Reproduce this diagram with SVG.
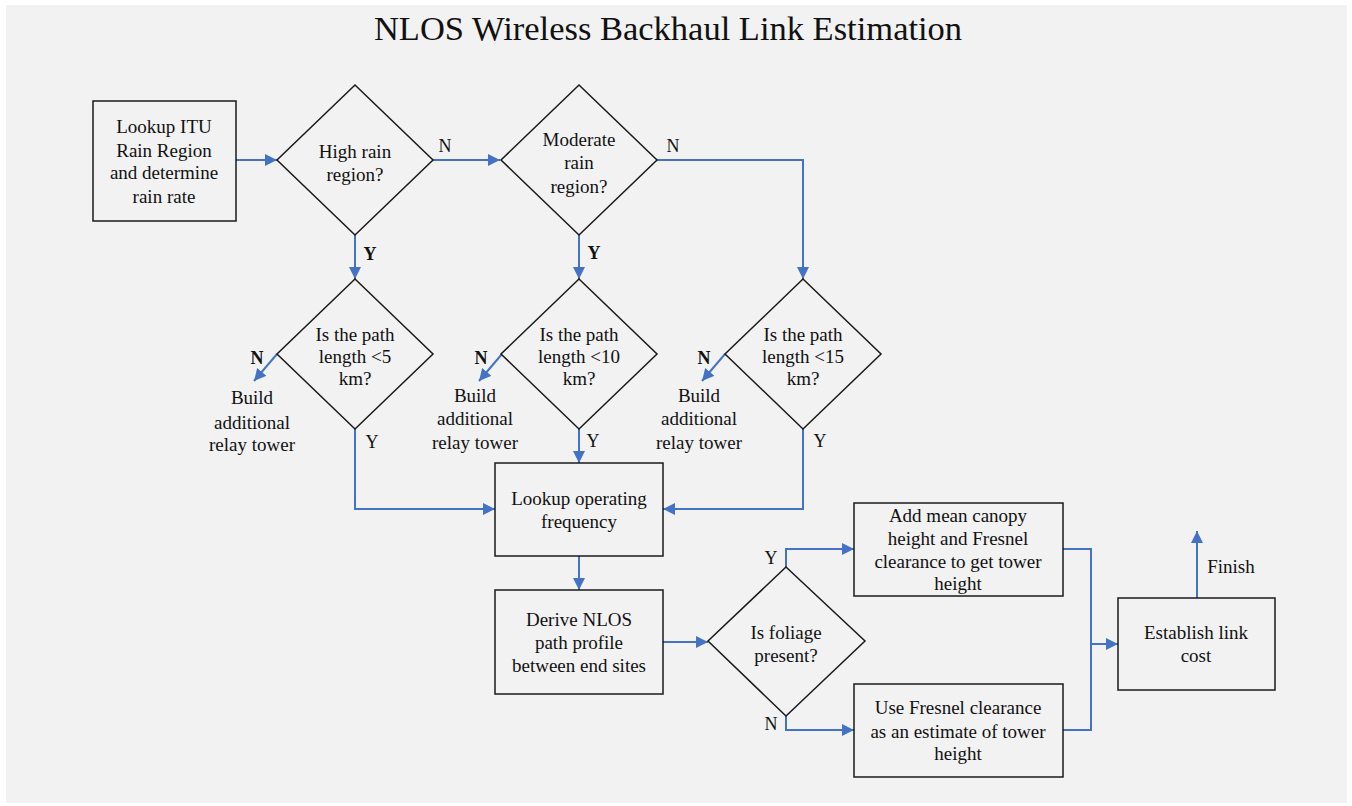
<svg xmlns="http://www.w3.org/2000/svg" width="1352" height="806" viewBox="0 0 1352 806">
<defs>
<marker id="ah" markerUnits="userSpaceOnUse" markerWidth="12" markerHeight="12" viewBox="0 0 12 12" refX="12" refY="6" orient="auto">
<path d="M0,0 L12,6 L0,12 z" fill="#4472C4"/>
</marker>
<style>
.bg{fill:#f2f2f2}
.node{fill:#f2f2f2;stroke:#1a1a1a;stroke-width:1.5}
.t{font-family:"Liberation Serif","Times New Roman",serif;font-size:19px;fill:#111;text-anchor:middle}
.lb{font-family:"Liberation Serif","Times New Roman",serif;font-size:18px;fill:#111;text-anchor:middle}
.b{font-weight:bold}
.c{fill:none;stroke:#4472C4;stroke-width:2}
</style>
</defs>
<rect x="0" y="0" width="1352" height="806" fill="#ffffff"/>
<rect class="bg" x="6" y="5" width="1341" height="798"/>
<text x="668" y="40" font-family="'Liberation Serif','Times New Roman',serif" font-size="34.5" fill="#111" text-anchor="middle">NLOS Wireless Backhaul Link Estimation</text>

<g id="connectors">
<path class="c" d="M236,160 L277,160" marker-end="url(#ah)"/>
<path class="c" d="M433,160 L500,160" marker-end="url(#ah)"/>
<path class="c" d="M657,160 L803,160 L803,279" marker-end="url(#ah)"/>
<path class="c" d="M355,235 L355,279" marker-end="url(#ah)"/>
<path class="c" d="M579,235 L579,279" marker-end="url(#ah)"/>
<path class="c" d="M277,354 L254,381" marker-end="url(#ah)"/>
<path class="c" d="M502,354 L479,381" marker-end="url(#ah)"/>
<path class="c" d="M725,354 L702,381" marker-end="url(#ah)"/>
<path class="c" d="M355,429 L355,509 L495,509" marker-end="url(#ah)"/>
<path class="c" d="M579,429 L579,463" marker-end="url(#ah)"/>
<path class="c" d="M803,429 L803,509 L663,509" marker-end="url(#ah)"/>
<path class="c" d="M579,556 L579,590" marker-end="url(#ah)"/>
<path class="c" d="M663,642 L708,642" marker-end="url(#ah)"/>
<path class="c" d="M786,567 L786,549 L854,549" marker-end="url(#ah)"/>
<path class="c" d="M786,716 L786,730 L854,730" marker-end="url(#ah)"/>
<path class="c" d="M1063,549 L1091,549 L1091,730 L1063,730"/>
<path class="c" d="M1091,644 L1118,644" marker-end="url(#ah)"/>
<path class="c" d="M1197,598 L1197,531" marker-end="url(#ah)"/>
<text class="lb" x="445" y="152">N</text>
<text class="lb" x="673" y="152">N</text>
<text class="lb b" x="370" y="260">Y</text>
<text class="lb b" x="594" y="259">Y</text>
<text class="lb b" x="257" y="364">N</text>
<text class="lb b" x="481" y="364">N</text>
<text class="lb b" x="704" y="364">N</text>
<text class="lb" x="372" y="448">Y</text>
<text class="lb" x="593" y="447">Y</text>
<text class="lb" x="820" y="447">Y</text>
<text class="lb" x="771" y="564">Y</text>
<text class="lb" x="771" y="730">N</text>
<text class="t" x="1231" y="573">Finish</text>
</g>

<g id="lookup-itu">
<rect class="node" x="93" y="101" width="143" height="120"/>
<text class="t" x="164" y="133">Lookup ITU</text>
<text class="t" x="164" y="157">Rain Region</text>
<text class="t" x="164" y="179">and determine</text>
<text class="t" x="164" y="203">rain rate</text>
</g>

<g id="high-rain">
<polygon class="node" points="355,85 433,160 355,235 277,160"/>
<text class="t" x="355" y="158">High rain</text>
<text class="t" x="355" y="181">region?</text>
</g>

<g id="moderate-rain">
<polygon class="node" points="579,85 657,160 579,235 501,160"/>
<text class="t" x="579" y="146">Moderate</text>
<text class="t" x="579" y="169">rain</text>
<text class="t" x="579" y="193">region?</text>
</g>

<g id="path5">
<polygon class="node" points="355,279 433,354 355,429 277,354"/>
<text class="t" x="355" y="341">Is the path</text>
<text class="t" x="355" y="363">length &lt;5</text>
<text class="t" x="355" y="385">km?</text>
</g>

<g id="path10">
<polygon class="node" points="579,279 657,354 579,429 501,354"/>
<text class="t" x="579" y="341">Is the path</text>
<text class="t" x="579" y="363">length &lt;10</text>
<text class="t" x="579" y="385">km?</text>
</g>

<g id="path15">
<polygon class="node" points="803,279 881,354 803,429 725,354"/>
<text class="t" x="803" y="341">Is the path</text>
<text class="t" x="803" y="363">length &lt;15</text>
<text class="t" x="803" y="385">km?</text>
</g>

<g id="relay1">
<text class="t" x="252" y="404">Build</text>
<text class="t" x="252" y="429">additional</text>
<text class="t" x="252" y="451">relay tower</text>
</g>
<g id="relay2">
<text class="t" x="475" y="402">Build</text>
<text class="t" x="475" y="425">additional</text>
<text class="t" x="475" y="449">relay tower</text>
</g>
<g id="relay3">
<text class="t" x="699" y="402">Build</text>
<text class="t" x="699" y="425">additional</text>
<text class="t" x="699" y="449">relay tower</text>
</g>

<g id="lookup-freq">
<rect class="node" x="495" y="463" width="168" height="93"/>
<text class="t" x="579" y="505">Lookup operating</text>
<text class="t" x="579" y="528">frequency</text>
</g>

<g id="derive-nlos">
<rect class="node" x="495" y="590" width="168" height="104"/>
<text class="t" x="579" y="626">Derive NLOS</text>
<text class="t" x="579" y="649">path profile</text>
<text class="t" x="579" y="672">between end sites</text>
</g>

<g id="foliage">
<polygon class="node" points="786,567 865,641 786,716 708,641"/>
<text class="t" x="786" y="639">Is foliage</text>
<text class="t" x="786" y="662">present?</text>
</g>

<g id="canopy">
<rect class="node" x="854" y="503" width="209" height="93"/>
<text class="t" x="958" y="522">Add mean canopy</text>
<text class="t" x="958" y="545">height and Fresnel</text>
<text class="t" x="958" y="568">clearance to get tower</text>
<text class="t" x="958" y="590">height</text>
</g>

<g id="fresnel">
<rect class="node" x="854" y="684" width="209" height="93"/>
<text class="t" x="958" y="714">Use Fresnel clearance</text>
<text class="t" x="958" y="738">as an estimate of tower</text>
<text class="t" x="958" y="760">height</text>
</g>

<g id="establish">
<rect class="node" x="1118" y="598" width="157" height="92"/>
<text class="t" x="1196" y="639">Establish link</text>
<text class="t" x="1196" y="662">cost</text>
</g>
</svg>
